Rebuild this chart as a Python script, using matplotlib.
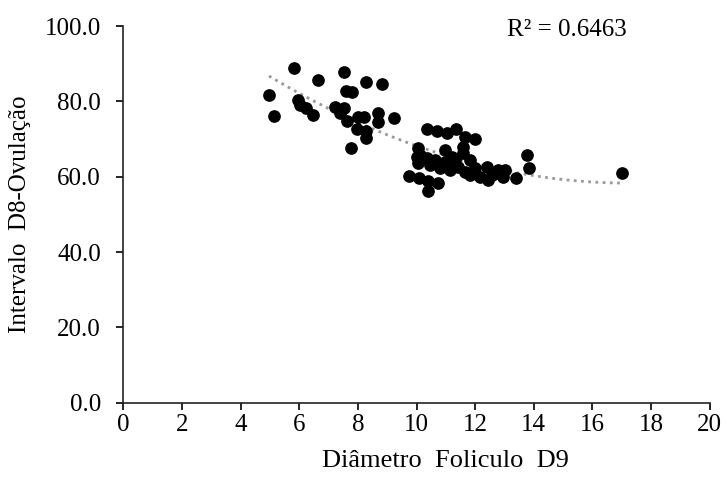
import numpy as np
import matplotlib.pyplot as plt

# Diâmetro folículo D9 (mm) x intervalo D8-ovulação (h)
diametro = [4.97, 5.14, 5.83, 5.96, 6.03, 6.24, 6.47, 6.64, 7.53, 8.28,
            8.82, 7.60, 7.80, 7.22, 7.53, 7.39, 7.63, 8.01, 8.21, 8.69,
            8.69, 9.23, 7.97, 8.28, 8.28, 7.77, 10.36, 10.70, 11.04, 11.35,
            11.65, 11.99, 11.58, 11.58, 10.05, 10.02, 10.05, 10.36, 10.63, 10.97,
            11.21, 11.82, 11.41, 11.99, 12.40, 12.16, 12.44, 12.78, 12.91, 13.02,
            13.39, 12.74, 12.95, 13.76, 13.83, 17.00, 9.74, 10.09, 10.39, 10.73,
            10.39, 10.46, 10.80, 11.14, 11.65, 11.82, 10.97, 10.12, 11.31, 12.57]
intervalo = [81.7, 76.1, 88.9, 80.4, 79.0, 78.2, 76.4, 85.7, 87.8, 85.1,
             84.6, 82.8, 82.5, 78.5, 78.2, 76.9, 74.8, 75.9, 75.9, 76.9,
             74.5, 75.6, 72.7, 72.1, 70.3, 67.6, 72.7, 72.1, 71.6, 72.7,
             70.6, 70.0, 67.9, 66.3, 67.6, 65.3, 63.7, 65.0, 64.5, 63.9,
             65.3, 64.5, 62.6, 62.3, 62.6, 59.9, 59.2, 61.8, 61.0, 61.8,
             59.7, 61.0, 59.9, 65.8, 62.3, 61.0, 60.2, 59.7, 58.9, 58.4,
             56.2, 63.1, 62.3, 61.8, 61.3, 60.5, 67.1, 65.8, 64.5, 60.5]
r2_label = "R² = 0.6463"

plt.rcParams['font.family'] = ['Liberation Serif', 'DejaVu Serif']

fig = plt.figure(figsize=(7.25, 4.83), dpi=100)
ax = fig.add_axes([0.170, 0.166, 0.809, 0.780])

ax.scatter(diametro, intervalo, s=66, color="black", zorder=3)

# linha de tendência polinomial (ordem 2)
coef = np.polyfit(diametro, intervalo, 2)
xs = np.linspace(min(diametro), max(diametro), 200)
ax.plot(xs, np.polyval(coef, xs), linestyle=(0, (1, 1.6)), color="#999999",
        linewidth=2.0, zorder=2)

ax.text(0.655, 0.99, r2_label, transform=ax.transAxes, fontsize=18,
        ha="left", va="center")

ax.set_xlim(0, 20)
ax.set_ylim(0, 100)
ax.set_xticks(range(0, 21, 2))
ax.set_yticks(range(0, 101, 20))
ax.set_yticklabels([f"{v:.1f}" for v in range(0, 101, 20)])

for side in ["top", "right"]:
    ax.spines[side].set_visible(False)
for side in ["left", "bottom"]:
    ax.spines[side].set_linewidth(1.2)
    ax.spines[side].set_color("#222222")

ax.tick_params(axis="x", direction="out", length=5, width=1.2, labelsize=18, pad=3)
ax.tick_params(axis="y", direction="out", length=5, width=1.2, labelsize=18, pad=11)

ax.set_xlabel("Diâmetro  Foliculo  D9", fontsize=19)
ax.xaxis.set_label_coords(0.549, -0.125)
ax.set_ylabel("Intervalo  D8-Ovulação", fontsize=18, labelpad=10)

fig.savefig("out.png", dpi=100)
